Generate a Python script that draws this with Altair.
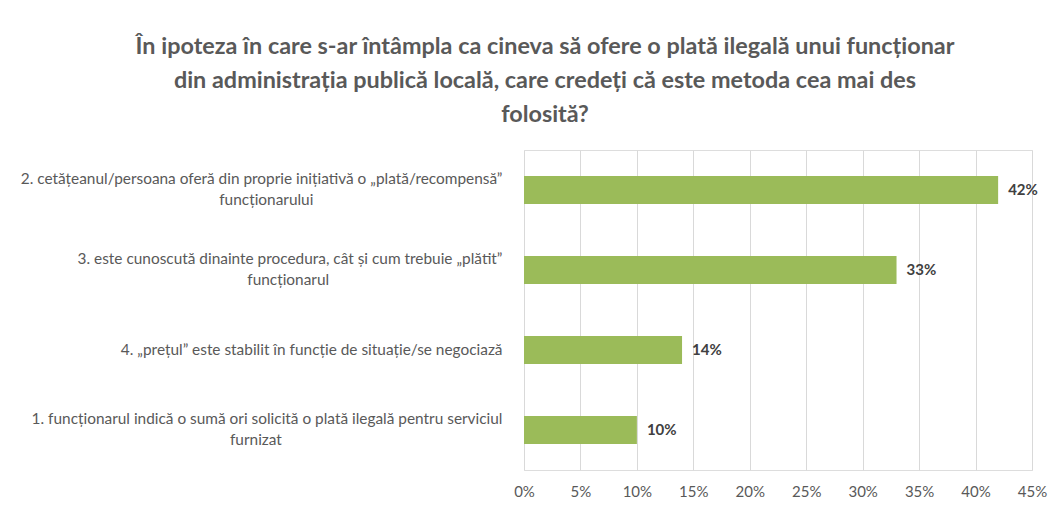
import altair as alt
import pandas as pd

title_lines = [
    "În ipoteza în care s-ar întâmpla ca cineva să ofere o plată ilegală unui funcționar",
    "din administrația publică locală, care credeți că este metoda cea mai des",
    "folosită?",
]

categories = [
    "2. cetățeanul/persoana oferă din proprie inițiativă o „plată/recompensă”\nfuncționarului",
    "3. este cunoscută dinainte procedura, cât și cum trebuie „plătit”\nfuncționarul",
    "4. „prețul” este stabilit în funcție de situație/se negociază",
    "1. funcționarul indică o sumă ori solicită o plată ilegală pentru serviciul\nfurnizat",
]
values = [0.42, 0.33, 0.14, 0.10]
tick_values = [0, 0.05, 0.10, 0.15, 0.20, 0.25, 0.30, 0.35, 0.40, 0.45]

df = pd.DataFrame({"cat": categories, "val": values})

FONT = "Lato"
GRAY = "#595959"

L1 = "split(datum.value, '\\n')[0]"
L2 = "split(datum.value, '\\n')[1]"
MULTI = "length(split(datum.value, '\\n')) > 1"
# second line centred under the first one (padding with no-break spaces)
label_expr = (
    f"{MULTI} ? "
    f"[{L1}, pad({L2}, length({L2}) + round(0.83 * (length({L1}) - length({L2}))), '\u00a0') + '\u200b'] "
    f": datum.value"
)

y_enc = alt.Y(
    "cat:N",
    sort=categories,
    title=None,
    scale=alt.Scale(paddingInner=0.65, paddingOuter=0.325),
    axis=alt.Axis(
        labelExpr=label_expr,
        labelAlign="right",
        labelBaseline={"condition": {"test": MULTI, "value": "line-bottom"}, "value": "middle"},
        labelPadding=22,
        labelFont=FONT,
        labelFontSize=15.4,
        labelColor=GRAY,
        labelLineHeight=21,
        labelLimit=0,
        ticks=False,
        domain=False,
        grid=False,
    ),
)

x_enc = alt.X(
    "val:Q",
    title=None,
    scale=alt.Scale(domain=[0, 0.45], nice=False),
    axis=alt.Axis(
        values=tick_values,
        format=".0%",
        grid=True,
        gridColor="#d9d9d9",
        gridWidth=1,
        domain=False,
        ticks=False,
        labelFont=FONT,
        labelFontSize=15,
        labelColor=GRAY,
        labelPadding=14,
        labelFlush=False,
    ),
)

base = alt.Chart(df)

bars = base.mark_bar(color="#9BBB59").encode(y=y_enc, x=x_enc)

text = base.mark_text(
    align="left",
    baseline="middle",
    dx=10,
    font=FONT,
    fontSize=15,
    fontWeight="bold",
    color="#404040",
).encode(
    y=alt.Y("cat:N", sort=categories),
    x=alt.X("val:Q"),
    text=alt.Text("val:Q", format=".0%"),
)

chart = (
    alt.layer(bars, text)
    .properties(
        width=508,
        height=320,
        padding={"left": 516, "top": 142, "right": 16, "bottom": 30},
        autosize=alt.AutoSizeParams(type="none"),
        title=alt.TitleParams(
            text=title_lines,
            font=FONT,
            fontSize=23.4,
            fontWeight="bold",
            color=GRAY,
            anchor="middle",
            frame="group",
            dx=-233,
            offset=23,
            lineHeight=33.7,
        ),
    )
    .configure_view(stroke=None)
    .configure(background="white")
)

chart.save("out.html", embed_options={"renderer": "svg", "actions": False})
